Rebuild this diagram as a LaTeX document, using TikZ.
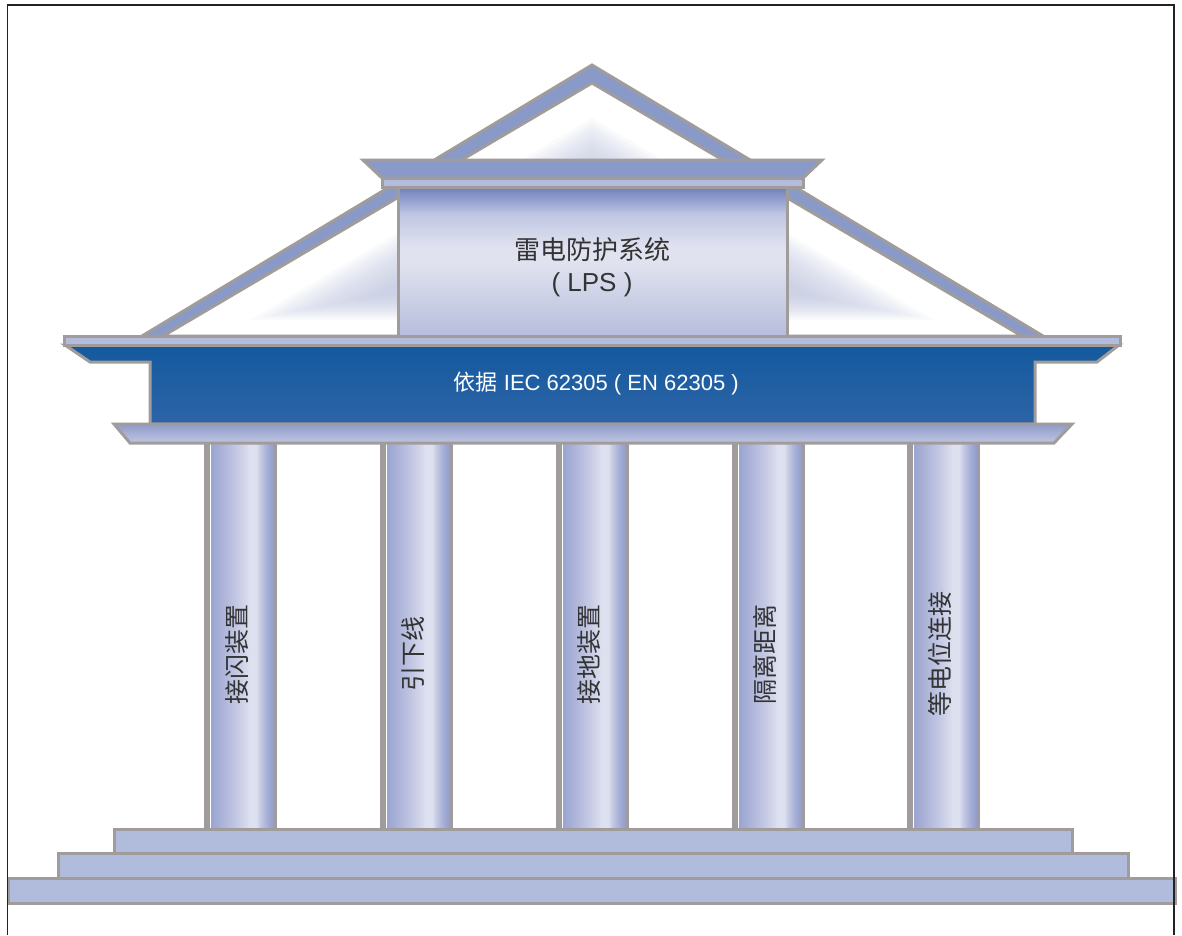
\documentclass[tikz,border=0pt]{standalone}
\usepackage{fontspec}
\newfontfamily\cjk{Noto Sans CJK SC}
\newfontfamily\lat{Liberation Sans}
\usetikzlibrary{calc}

% palette
\definecolor{edge}{HTML}{A09C9C}
\definecolor{framec}{HTML}{222222}
\definecolor{roofblue}{HTML}{8A9AC8}
\definecolor{lightstrip}{HTML}{B3BCDC}
\definecolor{stepfill}{HTML}{B1BBDB}
\definecolor{bandtop}{HTML}{14599E}
\definecolor{bandbot}{HTML}{2D64A7}
\definecolor{glowc}{HTML}{B9C0DE}
\definecolor{txt}{HTML}{333333}
\definecolor{pA}{HTML}{9AA4CF}
\definecolor{pB}{HTML}{C2C7E3}
\definecolor{pC}{HTML}{DDE0EE}
\definecolor{pD}{HTML}{C6CBE4}
\definecolor{pE}{HTML}{A4ADD6}
\definecolor{pF}{HTML}{8F9BC9}
\definecolor{bA}{HTML}{6E7FBA}
\definecolor{bB}{HTML}{9AA6D2}
\definecolor{bC}{HTML}{C0C6E2}
\definecolor{bD}{HTML}{E0E2EF}
\definecolor{bE}{HTML}{B6BDDC}

% column body: thin white rim on the left, bright streak right of centre
\pgfdeclarehorizontalshading{pillar}{100bp}{%
  color(0bp)=(white); color(25bp)=(white); color(25.8bp)=(pA);
  color(45bp)=(pB); color(56bp)=(pC); color(61bp)=(pC);
  color(64bp)=(pD); color(70bp)=(pE); color(75bp)=(pF); color(100bp)=(pF)}
% central block: dark top band, pale middle
\pgfdeclareverticalshading{boxshade}{100bp}{%
  color(0bp)=(bE); color(25bp)=(bE); color(50bp)=(bD); color(55bp)=(bD);
  color(66bp)=(bC); color(70bp)=(bB); color(75bp)=(bA); color(100bp)=(bA)}

\tikzset{
  outline/.style={draw=edge, line width=3pt, line join=miter},
  slab/.style={outline, fill=lightstrip},
  stepbox/.style={outline, fill=stepfill},
  collabel/.style={font=\cjk\fontsize{25}{28}\selectfont, text=txt, inner sep=0pt},
}

\begin{document}
\begin{tikzpicture}[x=1pt, y=-1pt]
\useasboundingbox (0,0) rectangle (1182,935);

% ---------- roof ----------
\draw[outline, fill=roofblue] (142,336) -- (592,65) -- (1043,336) -- cycle;
\draw[outline, fill=white] (163,336) -- (592,83) -- (1022,336) -- cycle;
\begin{scope}
  \clip (163,336) -- (592,83) -- (1022,336) -- cycle;
  \foreach \s in {1.00,0.97,0.94,0.91,0.88,0.85,0.82,0.79,0.76,0.73,0.70,0.67,0.64} {
    \begin{scope}[shift={(592,253)}, scale=\s]
      \fill[glowc, fill opacity=0.08] (-342,67) -- (0,-135) -- (342,67) -- cycle;
    \end{scope}
  }
\end{scope}

% central block with cornice
\draw[outline, shading=boxshade] (398,187) rectangle (787,337);
\node[text=txt, align=center, font=\fontsize{26}{32}\selectfont] (lps)
  at (592,267) {{\cjk 雷电防护系统}\\{\lat ( LPS )}};
\draw[outline, fill=roofblue] (363,160) -- (822,160) -- (803,178) -- (382,178) -- cycle;
\draw[slab] (382,178) rectangle (803,187);

% ---------- entablature ----------
\draw[outline, top color=bandtop, bottom color=bandbot]
  (65,345) -- (90,362) -- (150,362) -- (150,424) -- (1035,424)
  -- (1035,362) -- (1097,362) -- (1119,345) -- cycle;
\node[text=white, font=\fontsize{22}{24}\selectfont] (std) at (596,384)
  {{\cjk 依据} {\lat IEC 62305 ( EN 62305 )}};
\draw[slab] (64,336) rectangle (1120,345);

% ---------- columns ----------
\foreach \cx/\lab [count=\i] in {241/接闪装置, 417/引下线, 593/接地装置, 769/隔离距离, 944/等电位连接} {
  \fill[edge] (\cx-37,440) rectangle (\cx+36,830);
  \shade[shading=pillar] (\cx-31,440) rectangle (\cx+33,830);
  \node[collabel, rotate=90] (col\i) at (\cx-4,654) {\lab};
}

% architrave under the band
\draw[outline, top color=pF, bottom color=bC]
  (114,424) -- (1072,424) -- (1054,443) -- (130,443) -- cycle;

% ---------- steps ----------
\draw[stepbox] (8,878) rectangle (1175,903);
\draw[stepbox] (58,853) rectangle (1128,878);
\draw[stepbox] (114,829) rectangle (1072,853);

% ---------- frame ----------
\draw[framec, line width=1.6pt] (7.5,935) -- (7.5,5) -- (1174,5) -- (1174,935);
\end{tikzpicture}
\end{document}
